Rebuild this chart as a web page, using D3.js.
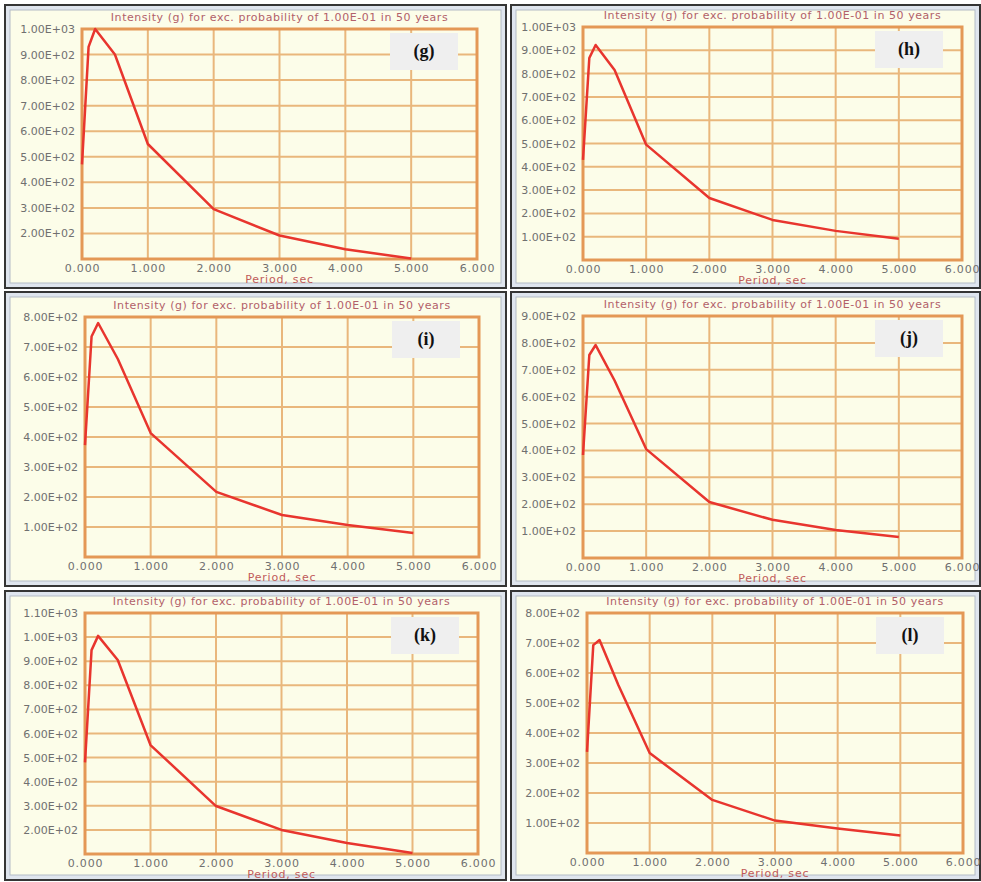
<!doctype html>
<html>
<head>
<meta charset="utf-8">
<title>Intensity spectra (g)–(l)</title>
<script src="https://cdn.jsdelivr.net/npm/d3@7"></script>
<style>
  body { margin: 0; background: #fff; }
  svg { display: block; }
</style>
</head>
<body>
<script>
// Periods (sec) shared by every spectrum.
const periods = [0, 0.1, 0.2, 0.5, 1, 2, 3, 4, 5];

// Intensity (g).
const intensityG = [470, 930, 1000, 900, 550, 295, 192, 138, 102];
const intensityH = [430, 867, 923, 815, 495, 266, 172, 125, 91];
const intensityI = [373, 735, 780, 660, 413, 217, 140, 107, 80];
const intensityJ = [383, 755, 792, 660, 405, 208, 142, 104, 78];
const intensityK = [480, 946, 1005, 905, 552, 299, 200, 146, 104];
const intensityL = [337, 693, 710, 560, 333, 177, 108, 82, 58];

const panelLabels = ["(g)", "(h)", "(i)", "(j)", "(k)", "(l)"];
const yDomains = [[100, 1000], [0, 1000], [0, 800], [0, 900], [100, 1100], [0, 800]];
const xTicks = [0, 1, 2, 3, 4, 5, 6];
const title = "Intensity (g) for exc. probability of 1.00E-01 in 50 years";
const xLabel = "Period, sec";

const series = [intensityG, intensityH, intensityI, intensityJ, intensityK, intensityL];

// Panel frames and plot rectangles [x0, y0, x1, y1].
const frames = [
  [5, 5, 506, 288], [511, 5, 980, 288],
  [5, 292, 506, 586], [511, 292, 980, 586],
  [5, 591, 506, 880], [511, 591, 980, 880]
];
const plots = [
  [82, 29, 477, 259], [583, 27, 962, 260],
  [85, 317, 479, 557], [583, 316, 962, 558],
  [85, 613, 478, 854], [587, 613, 963, 853]
];

const width = 981;
const height = 882;

const fmtE = (v) => {
  const [m, e] = v.toExponential(2).split("e");
  const n = +e;
  return `${m}E${n < 0 ? "-" : "+"}${String(Math.abs(n)).padStart(2, "0")}`;
};

const svg = d3.select("body").append("svg")
    .attr("width", width)
    .attr("height", height)
    .attr("viewBox", [0, 0, width, height]);

series.forEach((values, i) => {
  const [fx0, fy0, fx1, fy1] = frames[i];
  const [px0, py0, px1, py1] = plots[i];
  const panel = svg.append("g");

  // Window-style frame.
  panel.append("rect")
      .attr("x", fx0).attr("y", fy0)
      .attr("width", fx1 - fx0).attr("height", fy1 - fy0)
      .attr("fill", "#dfe5ee")
      .attr("stroke", "#353535")
      .attr("stroke-width", 2);
  panel.append("rect")
      .attr("x", fx0 + 5).attr("y", fy0 + 5)
      .attr("width", fx1 - fx0 - 10).attr("height", fy1 - fy0 - 10)
      .attr("fill", "#fcfde9")
      .attr("stroke", "#b4bcc6")
      .attr("stroke-width", 1);

  const x = d3.scaleLinear([0, 6], [px0, px1]);
  const y = d3.scaleLinear(yDomains[i], [py1, py0]);
  const yTicks = y.ticks(10).filter((v) => v > yDomains[i][0]);

  // Grid.
  panel.append("g")
      .attr("stroke", "#e9b77c")
      .attr("stroke-width", 2)
    .call((g) => g.selectAll(".v")
      .data(xTicks.slice(1, -1))
      .join("line")
        .attr("x1", (d) => x(d)).attr("x2", (d) => x(d))
        .attr("y1", py0).attr("y2", py1))
    .call((g) => g.selectAll(".h")
      .data(yTicks.filter((v) => v < yDomains[i][1]))
      .join("line")
        .attr("x1", px0).attr("x2", px1)
        .attr("y1", (d) => y(d)).attr("y2", (d) => y(d)));

  panel.append("rect")
      .attr("x", px0).attr("y", py0)
      .attr("width", px1 - px0).attr("height", py1 - py0)
      .attr("fill", "none")
      .attr("stroke", "#e49856")
      .attr("stroke-width", 3);

  // Axes.
  panel.append("g")
      .attr("transform", `translate(${px0 - 5},0)`)
      .call(d3.axisLeft(y).tickValues(yTicks).tickFormat(fmtE).tickSize(0).tickPadding(2))
      .call((g) => g.select(".domain").remove())
      .call((g) => g.selectAll("text")
        .attr("fill", "#707070")
        .attr("font-family", "DejaVu Sans")
        .attr("font-size", 11));

  panel.append("g")
      .attr("transform", `translate(0,${py1 + 3})`)
      .call(d3.axisBottom(x).tickValues(xTicks).tickFormat(d3.format(".3f")).tickSize(0).tickPadding(2))
      .call((g) => g.select(".domain").remove())
      .call((g) => g.selectAll("text")
        .attr("fill", "#707070")
        .attr("font-family", "DejaVu Sans")
        .attr("font-size", 11)
        .attr("letter-spacing", 0.8));

  panel.append("text")
      .attr("x", (px0 + px1) / 2)
      .attr("y", py1 + 24)
      .attr("text-anchor", "middle")
      .attr("fill", "#c05a5a")
      .attr("font-family", "DejaVu Sans")
      .attr("font-size", 11)
      .attr("letter-spacing", 0.8)
      .text(xLabel);

  panel.append("text")
      .attr("x", (px0 + px1) / 2)
      .attr("y", py0 - 8)
      .attr("text-anchor", "middle")
      .attr("fill", "#b2606a")
      .attr("font-family", "DejaVu Sans")
      .attr("font-size", 11)
      .attr("letter-spacing", 0.55)
      .text(title);

  // Spectrum.
  const line = d3.line()
      .x((d, j) => x(periods[j]))
      .y((d) => y(d));

  panel.append("path")
      .datum(values)
      .attr("fill", "none")
      .attr("stroke", "#e8352e")
      .attr("stroke-width", 2.5)
      .attr("stroke-linejoin", "round")
      .attr("d", line);

  // Panel label box.
  panel.append("rect")
      .attr("x", px1 - 87).attr("y", py0 + 4)
      .attr("width", 68).attr("height", 37)
      .attr("fill", "#efefef");
  panel.append("text")
      .attr("x", px1 - 53)
      .attr("y", py0 + 28)
      .attr("text-anchor", "middle")
      .attr("font-family", "Liberation Serif")
      .attr("font-weight", "bold")
      .attr("font-size", 18)
      .attr("fill", "#111")
      .text(panelLabels[i]);
});
</script>
</body>
</html>
